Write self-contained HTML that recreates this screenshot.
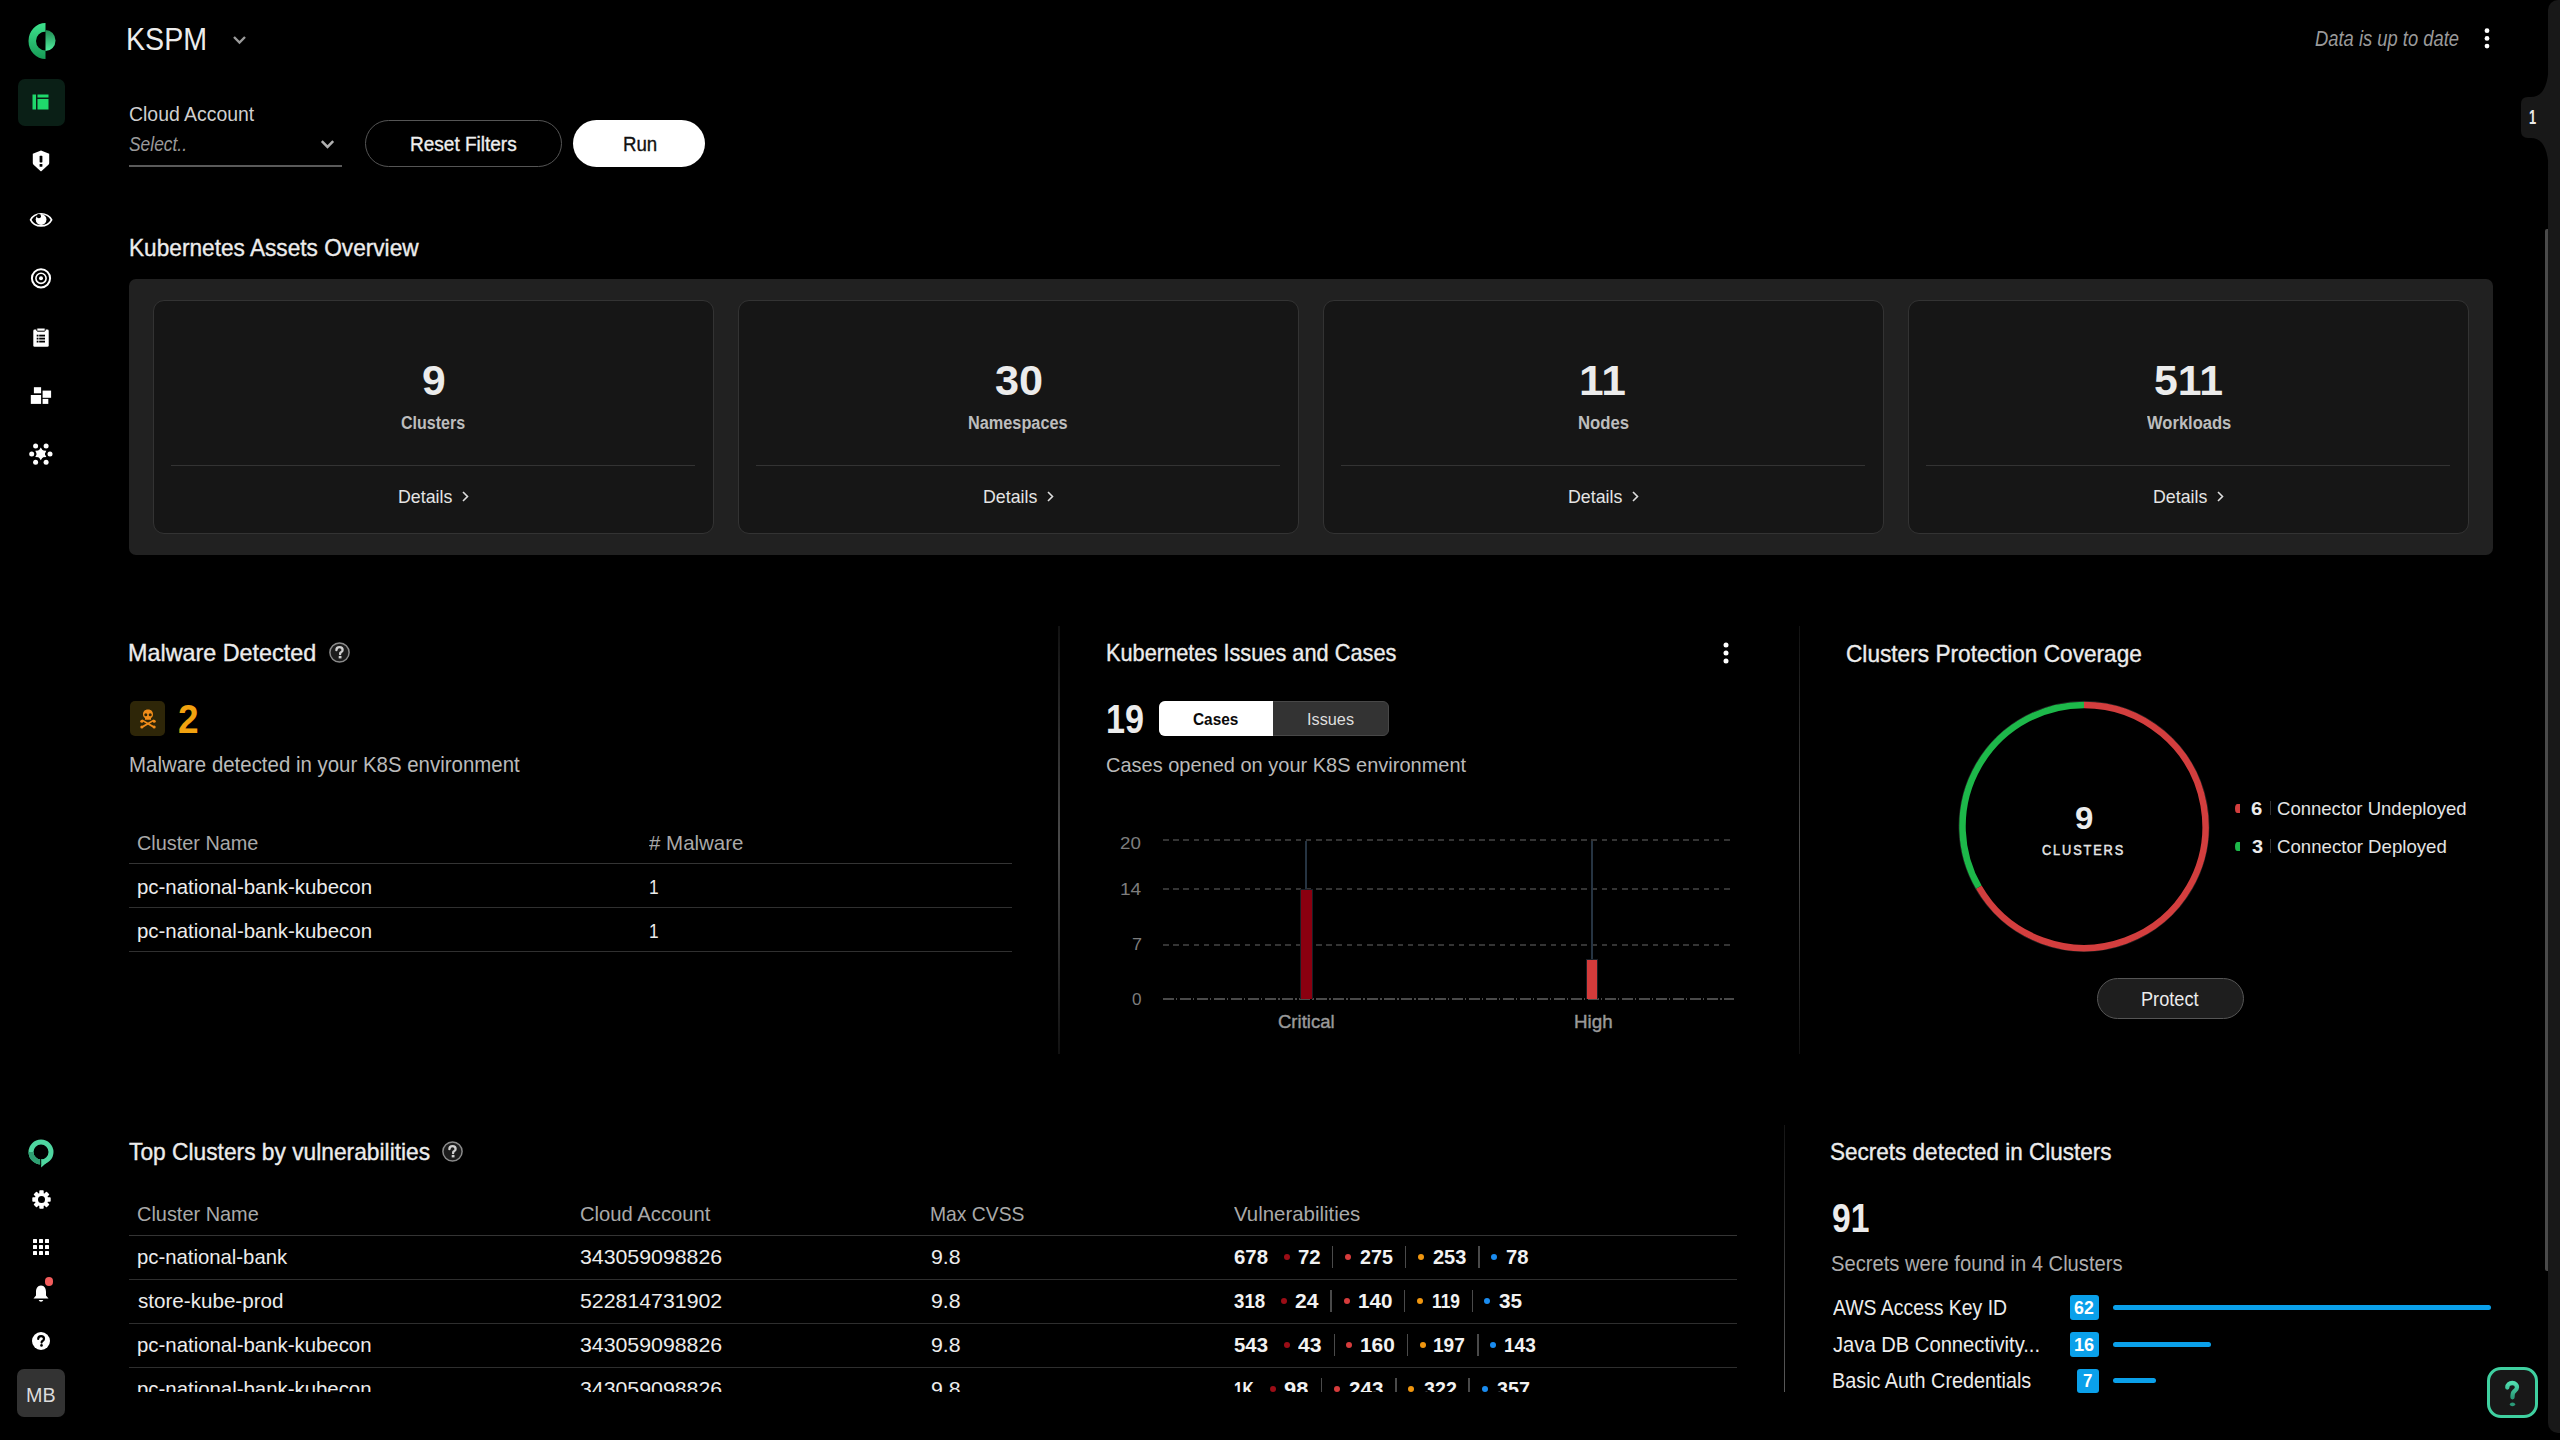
<!DOCTYPE html>
<html><head><meta charset="utf-8"><title>KSPM</title>
<style>
html,body{margin:0;padding:0;}
body{width:2560px;height:1440px;overflow:hidden;background:#000;position:relative;font-family:"Liberation Sans",sans-serif;}
.t{position:absolute;white-space:nowrap;line-height:1;transform-origin:0 0;}
.a{position:absolute;}
svg{position:absolute;overflow:visible;}
</style></head><body>
<div class="a" style="left:2548px;top:0;width:12px;height:1433px;background:#181818;border-radius:10px 0 0 10px"></div>
<svg style="left:0;top:0" width="2560" height="300" viewBox="0 0 2560 300"><path d="M2549 58 C2549 88 2542 97 2531 97 L2528 97 Q2521 97 2521 104 L2521 131 Q2521 138 2528 138 L2531 138 C2542 138 2549 147 2549 177 Z" fill="#181818"/></svg>
<div class="t" style="left:2529.20px;top:108.40px;font-size:19.30px;color:#e8e8e8;font-weight:700;transform:scaleX(0.6667);">1</div>
<div class="a" style="left:2545px;top:229px;width:3px;height:1042px;background:#4a4a4a;border-radius:2px 0 0 2px"></div>
<svg style="left:26px;top:23px" width="31" height="36" viewBox="0 0 31 36">
<defs><linearGradient id="lg1" x1="0" y1="0" x2="0" y2="1"><stop offset="0" stop-color="#3ee38e"/><stop offset="1" stop-color="#169a55"/></linearGradient>
<linearGradient id="lg2" x1="0" y1="0" x2="0" y2="1"><stop offset="0" stop-color="#1f8a52"/><stop offset="1" stop-color="#52f0a0"/></linearGradient></defs>
<path d="M19.5 0 L19.5 36 A17 18 0 0 1 19.5 0 Z M19.5 8.5 A9.5 9.5 0 0 0 19.5 27.5 Z" fill="url(#lg1)" fill-rule="evenodd"/>
<path d="M19.5 7 A10 10.5 0 0 1 19.5 28 Z" fill="url(#lg2)"/>
</svg>
<div class="a" style="left:17.5px;top:79px;width:47px;height:47px;background:#0a1f16;border-radius:7px"></div>
<svg style="left:32px;top:94px" width="17" height="16" viewBox="0 0 17 16">
<rect x="0.5" y="0.5" width="3.5" height="15" fill="#1fd86b"/><rect x="5.5" y="0.5" width="11" height="3" fill="#1fd86b"/><rect x="5.5" y="5" width="11" height="10.5" fill="#1fd86b"/></svg>
<svg style="left:32px;top:150px" width="18" height="22" viewBox="0 0 18 22">
<path d="M9 0.6 L17.2 3.8 L17.2 13 Q17.2 14 16.4 14.8 L9.6 21 Q9 21.4 8.4 21 L1.6 14.8 Q0.8 14 0.8 13 L0.8 3.8 Z" fill="#fff"/>
<rect x="7.6" y="5.8" width="2.8" height="6.6" rx="0.6" fill="#000"/><rect x="7.6" y="14" width="2.8" height="2.8" rx="0.6" fill="#000"/></svg>
<svg style="left:29px;top:209px" width="24" height="20" viewBox="0 0 24 20">
<path d="M1.6 10.85 C5.6 2.72 18.4 2.72 22.6 10.85 C18.4 18.98 5.6 18.98 1.6 10.85 Z" fill="none" stroke="#fff" stroke-width="1.7"/>
<circle cx="12.1" cy="10.5" r="5.4" fill="#fff"/><circle cx="9.9" cy="7.2" r="2.1" fill="#000"/></svg>
<svg style="left:30px;top:267px" width="22" height="22" viewBox="0 0 22 22">
<circle cx="11" cy="11.3" r="9.1" fill="none" stroke="#fff" stroke-width="2"/><circle cx="11" cy="11.3" r="5.1" fill="none" stroke="#fff" stroke-width="1.6"/><circle cx="11" cy="11.3" r="2" fill="#fff"/></svg>
<svg style="left:33px;top:327.5px" width="16" height="19" viewBox="0 0 16 19">
<rect x="0.3" y="1.6" width="15.4" height="17.1" rx="1.3" fill="#fff"/><rect x="3.8" y="0" width="8.4" height="3.2" rx="0.8" fill="#fff" stroke="#000" stroke-width="1"/>
<rect x="3.7" y="6.7" width="1.8" height="1.8" fill="#000"/><rect x="6.2" y="6.7" width="5.8" height="1.8" fill="#000"/>
<rect x="3.7" y="9.7" width="1.8" height="1.8" fill="#000"/><rect x="6.2" y="9.7" width="5.8" height="1.8" fill="#000"/>
<rect x="3.7" y="12.7" width="1.8" height="1.8" fill="#000"/><rect x="6.2" y="12.7" width="5.8" height="1.8" fill="#000"/></svg>
<svg style="left:30px;top:386px" width="22" height="19" viewBox="0 0 22 19"><g fill="#fff">
<rect x="3.9" y="1.2" width="7.2" height="6.1"/><rect x="0.8" y="9" width="10.3" height="8.9"/><rect x="12.6" y="4.6" width="8.5" height="7.2"/><rect x="12.6" y="12.9" width="5.7" height="5"/></g></svg>
<svg style="left:29px;top:442px" width="24" height="24" viewBox="0 0 24 24"><g fill="#fff">
<polygon points="11.80,5.50 9.85,8.52 6.26,8.70 7.90,11.90 6.26,15.10 9.85,15.28 11.80,18.30 13.75,15.28 17.34,15.10 15.70,11.90 17.34,8.70 13.75,8.52"/><circle cx="11.8" cy="11.9" r="4.2"/>
<circle cx="2.7" cy="11.9" r="2.5"/><circle cx="21" cy="11.9" r="2.5"/><circle cx="6.6" cy="4.1" r="2.5"/><circle cx="17.1" cy="4.1" r="2.5"/><circle cx="6.6" cy="20.2" r="2.5"/><circle cx="17.1" cy="20.2" r="2.5"/></g></svg>
<svg style="left:28px;top:1138.5px" width="26" height="29" viewBox="0 0 26 29">
<path d="M13 0.5 A12.5 12.5 0 1 1 13 25.5 A12.5 12.5 0 1 1 13 0.5 Z M13 5.5 A7.5 7.5 0 1 0 13 20.5 A7.5 7.5 0 1 0 13 5.5 Z" fill="#4fd6a0" fill-rule="evenodd"/>
<path d="M0.5 13 A12.5 12.5 0 0 0 13 25.5 L13 20.5 A7.5 7.5 0 0 1 5.5 13 Z" fill="#2f9f72"/>
<path d="M13 20 L13.2 28.6 L20 22.6 Z" fill="#4fd6a0"/>
<rect x="12.2" y="20" width="1" height="6" fill="#000"/></svg>
<svg style="left:31.5px;top:1190px" width="19" height="19" viewBox="-9.5 -9.5 19 19">
<g fill="#fff"><rect x="-2.2" y="-9.2" width="4.4" height="5" rx="0.8" transform="rotate(0)"/><rect x="-2.2" y="-9.2" width="4.4" height="5" rx="0.8" transform="rotate(45)"/><rect x="-2.2" y="-9.2" width="4.4" height="5" rx="0.8" transform="rotate(90)"/><rect x="-2.2" y="-9.2" width="4.4" height="5" rx="0.8" transform="rotate(135)"/><rect x="-2.2" y="-9.2" width="4.4" height="5" rx="0.8" transform="rotate(180)"/><rect x="-2.2" y="-9.2" width="4.4" height="5" rx="0.8" transform="rotate(225)"/><rect x="-2.2" y="-9.2" width="4.4" height="5" rx="0.8" transform="rotate(270)"/><rect x="-2.2" y="-9.2" width="4.4" height="5" rx="0.8" transform="rotate(315)"/>
<circle r="6.6"/></g><circle r="3.5" fill="#000"/></svg>
<svg style="left:33px;top:1238.5px" width="16" height="16" viewBox="0 0 16 16"><g fill="#fff"><rect x="0" y="0" width="4" height="4" rx="0.6"/><rect x="0" y="6" width="4" height="4" rx="0.6"/><rect x="0" y="12" width="4" height="4" rx="0.6"/><rect x="6" y="0" width="4" height="4" rx="0.6"/><rect x="6" y="6" width="4" height="4" rx="0.6"/><rect x="6" y="12" width="4" height="4" rx="0.6"/><rect x="12" y="0" width="4" height="4" rx="0.6"/><rect x="12" y="6" width="4" height="4" rx="0.6"/><rect x="12" y="12" width="4" height="4" rx="0.6"/></g></svg>
<svg style="left:33px;top:1284px" width="16" height="19" viewBox="0 0 16 19">
<path d="M8 1.5 C11.5 1.5 13 4.5 13 8 L13 11.5 L15.5 14.5 L0.5 14.5 L3 11.5 L3 8 C3 4.5 4.5 1.5 8 1.5 Z" fill="#fff"/><path d="M5.7 16 A2.4 2.4 0 0 0 10.3 16 Z" fill="#fff"/></svg>
<div class="a" style="left:44.5px;top:1277px;width:8.5px;height:8.5px;border-radius:50%;background:#f25c5c"></div>
<svg style="left:32px;top:1332px" width="18" height="18" viewBox="0 0 18 18">
<circle cx="9" cy="9" r="9" fill="#fff"/>
<path d="M6.2 7 C6.2 5.3 7.4 4.2 9.1 4.2 C10.8 4.2 12 5.3 12 6.8 C12 8.2 10.9 8.7 10.2 9.2 C9.7 9.6 9.6 9.9 9.6 10.6" fill="none" stroke="#000" stroke-width="2.2" stroke-linecap="round"/>
<circle cx="9.5" cy="13.4" r="1.3" fill="#000"/></svg>
<div class="a" style="left:17px;top:1369px;width:48px;height:48px;background:#333;border-radius:7px"></div>
<div class="t" style="left:25.96px;top:1384.52px;font-size:20.50px;color:#dcdcdc;transform:scaleX(0.9617);">MB</div>
<div class="t" style="left:125.76px;top:25.00px;font-size:30.70px;color:#ececec;transform:scaleX(0.9329);">KSPM</div>
<svg style="left:232px;top:35px" width="15" height="10" viewBox="0 0 15 10"><path d="M2 2 L7.5 7.5 L13 2" fill="none" stroke="#9a9a9a" stroke-width="2.4"/></svg>
<div class="t" style="left:2315.48px;top:29.03px;font-size:21.40px;color:#9a9a9a;font-style:italic;transform:scaleX(0.8592);">Data is up to date</div>
<svg style="left:2482.5px;top:28px" width="8" height="22" viewBox="0 0 8 22"><g fill="#fff"><circle cx="4" cy="2.7" r="2.4"/><circle cx="4" cy="10.4" r="2.4"/><circle cx="4" cy="18.1" r="2.4"/></g></svg>
<div class="t" style="left:128.73px;top:104.01px;font-size:20.00px;color:#cfcfcf;transform:scaleX(0.9712);">Cloud Account</div>
<div class="t" style="left:129.05px;top:134.62px;font-size:19.30px;color:#9a9a9a;font-style:italic;transform:scaleX(0.9024);">Select..</div>
<svg style="left:320px;top:139px" width="15" height="11" viewBox="0 0 15 11"><path d="M1.8 2.2 L7.5 8 L13.2 2.2" fill="none" stroke="#b0b0b0" stroke-width="2.5"/></svg>
<div class="a" style="left:129px;top:165px;width:213px;height:2px;background:#5a5a5a"></div>
<div class="a" style="left:365px;top:120px;width:195px;height:45px;border:1.5px solid #555;border-radius:24px"></div>
<div class="t" style="left:409.92px;top:133.82px;font-size:20.50px;color:#eeeeee;transform:scaleX(0.9273);-webkit-text-stroke:0.35px currentColor;">Reset Filters</div>
<div class="a" style="left:573px;top:120px;width:132px;height:47px;background:#fff;border-radius:24px"></div>
<div class="t" style="left:622.54px;top:133.82px;font-size:20.50px;color:#111;transform:scaleX(0.9105);-webkit-text-stroke:0.35px currentColor;">Run</div>
<div class="t" style="left:128.94px;top:236.62px;font-size:23.20px;color:#ececec;transform:scaleX(0.9770);-webkit-text-stroke:0.35px currentColor;">Kubernetes Assets Overview</div>
<div class="a" style="left:129px;top:279px;width:2364px;height:276px;background:#212121;border-radius:7px"></div>
<div class="a" style="left:153px;top:300px;width:559px;height:232px;background:#161616;border:1px solid #333;border-radius:11px"></div>
<div class="a" style="left:171px;top:464.5px;width:524px;height:1.5px;background:#333"></div>
<div class="t" style="left:421.52px;top:359.50px;font-size:42.10px;color:#ececec;font-weight:700;transform:scaleX(1.0119);">9</div>
<div class="t" style="left:401.39px;top:413.60px;font-size:18.30px;color:#bdbdbd;font-weight:700;transform:scaleX(0.8768);">Clusters</div>
<div class="t" style="left:398.42px;top:488.01px;font-size:18.60px;color:#e4e4e4;transform:scaleX(0.9552);">Details</div>
<svg style="left:462.0px;top:491px" width="7" height="11" viewBox="0 0 7 11"><path d="M1 1 L5.5 5.5 L1 10" fill="none" stroke="#ddd" stroke-width="1.6"/></svg>
<div class="a" style="left:738px;top:300px;width:559px;height:232px;background:#161616;border:1px solid #333;border-radius:11px"></div>
<div class="a" style="left:756px;top:464.5px;width:524px;height:1.5px;background:#333"></div>
<div class="t" style="left:994.97px;top:359.50px;font-size:42.10px;color:#ececec;font-weight:700;transform:scaleX(1.0278);">30</div>
<div class="t" style="left:968.43px;top:413.60px;font-size:18.30px;color:#bdbdbd;font-weight:700;transform:scaleX(0.8907);">Namespaces</div>
<div class="t" style="left:983.42px;top:488.01px;font-size:18.60px;color:#e4e4e4;transform:scaleX(0.9552);">Details</div>
<svg style="left:1047.0px;top:491px" width="7" height="11" viewBox="0 0 7 11"><path d="M1 1 L5.5 5.5 L1 10" fill="none" stroke="#ddd" stroke-width="1.6"/></svg>
<div class="a" style="left:1323px;top:300px;width:559px;height:232px;background:#161616;border:1px solid #333;border-radius:11px"></div>
<div class="a" style="left:1341px;top:464.5px;width:524px;height:1.5px;background:#333"></div>
<div class="t" style="left:1579.23px;top:359.50px;font-size:42.10px;color:#ececec;font-weight:700;transform:scaleX(1.0533);">11</div>
<div class="t" style="left:1577.65px;top:413.60px;font-size:18.30px;color:#bdbdbd;font-weight:700;transform:scaleX(0.9158);">Nodes</div>
<div class="t" style="left:1568.42px;top:488.01px;font-size:18.60px;color:#e4e4e4;transform:scaleX(0.9552);">Details</div>
<svg style="left:1632.0px;top:491px" width="7" height="11" viewBox="0 0 7 11"><path d="M1 1 L5.5 5.5 L1 10" fill="none" stroke="#ddd" stroke-width="1.6"/></svg>
<div class="a" style="left:1908px;top:300px;width:559px;height:232px;background:#161616;border:1px solid #333;border-radius:11px"></div>
<div class="a" style="left:1926px;top:464.5px;width:524px;height:1.5px;background:#333"></div>
<div class="t" style="left:2154.18px;top:359.50px;font-size:42.10px;color:#ececec;font-weight:700;transform:scaleX(1.0164);">511</div>
<div class="t" style="left:2146.60px;top:413.60px;font-size:18.30px;color:#bdbdbd;font-weight:700;transform:scaleX(0.9056);">Workloads</div>
<div class="t" style="left:2153.42px;top:488.01px;font-size:18.60px;color:#e4e4e4;transform:scaleX(0.9552);">Details</div>
<svg style="left:2217.0px;top:491px" width="7" height="11" viewBox="0 0 7 11"><path d="M1 1 L5.5 5.5 L1 10" fill="none" stroke="#ddd" stroke-width="1.6"/></svg>
<div class="a" style="left:1058px;top:626px;width:1.5px;height:428px;background:linear-gradient(#111,#4a4a4a 50%,#111)"></div>
<div class="a" style="left:1798.5px;top:626px;width:1.5px;height:428px;background:linear-gradient(#111,#4a4a4a 50%,#111)"></div>
<div class="a" style="left:1783.5px;top:1125px;width:1.5px;height:267px;background:linear-gradient(#151515,#5a5a5a)"></div>
<div class="t" style="left:128.49px;top:642.22px;font-size:23.20px;color:#ececec;transform:scaleX(1.0073);-webkit-text-stroke:0.35px currentColor;">Malware Detected</div>
<svg style="left:328.5px;top:642px" width="21" height="21" viewBox="0 0 21 21"><circle cx="10.5" cy="10.5" r="9.6" fill="#1c1c1c" stroke="#8a8a8a" stroke-width="1.5"/><path d="M7.4 8.2 C7.4 6.3 8.7 5.2 10.5 5.2 C12.3 5.2 13.6 6.3 13.6 7.9 C13.6 9.4 12.4 9.9 11.7 10.5 C11.2 10.9 11.1 11.3 11.1 12.2" fill="none" stroke="#cfcfcf" stroke-width="2.3" stroke-linecap="round"/><rect x="9.7" y="14" width="2.8" height="2.4" fill="#cfcfcf"/></svg>
<div class="a" style="left:130px;top:701px;width:35px;height:35px;background:#2e2608;border-radius:5px"></div>
<svg style="left:140px;top:709px" width="16" height="20" viewBox="0 0 16 20"><g fill="#f08c1a">
<path d="M8 0.5 C11.5 0.5 13 2.8 13 5.5 C13 7.5 12 8.5 11 9 L11 10.8 L5 10.8 L5 9 C4 8.5 3 7.5 3 5.5 C3 2.8 4.5 0.5 8 0.5 Z"/>
<path d="M1.2 11.5 L2.5 10.6 L14.8 17.6 L13.5 19 Z"/><path d="M14.8 11.5 L13.5 10.6 L1.2 17.6 L2.5 19 Z"/>
<circle cx="1.8" cy="12.3" r="1.5"/><circle cx="14.2" cy="12.3" r="1.5"/><circle cx="1.8" cy="17.9" r="1.5"/><circle cx="14.2" cy="17.9" r="1.5"/></g>
<circle cx="5.8" cy="5.8" r="1.5" fill="#2e2608"/><circle cx="10.2" cy="5.8" r="1.5" fill="#2e2608"/></svg>
<div class="t" style="left:178.24px;top:699.40px;font-size:40.70px;color:#f2a20f;font-weight:700;transform:scaleX(0.9091);">2</div>
<div class="t" style="left:128.88px;top:754.73px;font-size:21.50px;color:#bababa;transform:scaleX(0.9503);">Malware detected in your K8S environment</div>
<div class="t" style="left:137.45px;top:831.50px;font-size:21.00px;color:#a9a9a9;transform:scaleX(0.9455);">Cluster Name</div>
<div class="t" style="left:648.80px;top:831.50px;font-size:21.00px;color:#a9a9a9;transform:scaleX(0.9751);"># Malware</div>
<div class="a" style="left:129px;top:862.8px;width:883px;height:1.5px;background:#343434"></div>
<div class="t" style="left:137.14px;top:875.60px;font-size:21.00px;color:#ececec;transform:scaleX(0.9725);">pc-national-bank-kubecon</div>
<div class="t" style="left:648.68px;top:875.60px;font-size:21.00px;color:#ececec;transform:scaleX(0.8242);">1</div>
<div class="a" style="left:129px;top:906.8px;width:883px;height:1.5px;background:#303030"></div>
<div class="t" style="left:137.14px;top:919.60px;font-size:21.00px;color:#ececec;transform:scaleX(0.9725);">pc-national-bank-kubecon</div>
<div class="t" style="left:648.68px;top:919.60px;font-size:21.00px;color:#ececec;transform:scaleX(0.8242);">1</div>
<div class="a" style="left:129px;top:950.8px;width:883px;height:1.5px;background:#303030"></div>
<div class="t" style="left:1106.22px;top:642.27px;font-size:23.20px;color:#ececec;transform:scaleX(0.9387);-webkit-text-stroke:0.35px currentColor;">Kubernetes Issues and Cases</div>
<svg style="left:1722px;top:642px" width="8" height="22" viewBox="0 0 8 22"><g fill="#fff"><circle cx="4" cy="3" r="2.5"/><circle cx="4" cy="11" r="2.5"/><circle cx="4" cy="19" r="2.5"/></g></svg>
<div class="t" style="left:1106.37px;top:699.40px;font-size:40.70px;color:#ececec;font-weight:700;transform:scaleX(0.8391);">19</div>
<div class="a" style="left:1159px;top:701px;width:228px;height:33px;background:#333;border:1px solid #484848;border-radius:6px"></div>
<div class="a" style="left:1159px;top:701px;width:114px;height:35px;background:#fff;border-radius:6px 0 0 6px"></div>
<div class="t" style="left:1193.13px;top:710.50px;font-size:17.40px;color:#0a0a0a;font-weight:700;transform:scaleX(0.8858);">Cases</div>
<div class="t" style="left:1306.50px;top:710.52px;font-size:17.40px;color:#dedede;transform:scaleX(0.9358);">Issues</div>
<div class="t" style="left:1106.05px;top:753.90px;font-size:21.00px;color:#bababa;transform:scaleX(0.9520);">Cases opened on your K8S environment</div>
<div class="t" style="left:1120.49px;top:834.69px;font-size:16.50px;color:#7d7d7d;transform:scaleX(1.1369);">20</div>
<div class="a" style="left:1163px;top:839.3px;width:571px;height:2px;background:repeating-linear-gradient(90deg,#343434 0 5.6px,transparent 5.6px 10.2px)"></div>
<div class="t" style="left:1120.01px;top:881.19px;font-size:16.50px;color:#7d7d7d;transform:scaleX(1.1573);">14</div>
<div class="a" style="left:1163px;top:888.0px;width:571px;height:2px;background:repeating-linear-gradient(90deg,#343434 0 5.6px,transparent 5.6px 10.2px)"></div>
<div class="t" style="left:1131.53px;top:935.69px;font-size:16.50px;color:#7d7d7d;transform:scaleX(1.0921);">7</div>
<div class="a" style="left:1163px;top:943.5px;width:571px;height:2px;background:repeating-linear-gradient(90deg,#343434 0 5.6px,transparent 5.6px 10.2px)"></div>
<div class="t" style="left:1131.78px;top:991.19px;font-size:16.50px;color:#7d7d7d;transform:scaleX(1.0375);">0</div>
<div class="a" style="left:1163px;top:997.7px;width:571px;height:2px;background:repeating-linear-gradient(90deg,#4a4a4a 0 11px,transparent 11px 13px,#4a4a4a 13px 14.5px,transparent 14.5px 17px)"></div>
<div class="a" style="left:1305.3px;top:840.5px;width:1.5px;height:49px;background:#263442"></div>
<div class="a" style="left:1300px;top:888.5px;width:12.5px;height:110.5px;background:#1a1f26"></div>
<div class="a" style="left:1301px;top:889.5px;width:10.5px;height:109.5px;background:#8a0010"></div>
<div class="a" style="left:1591.3px;top:840.5px;width:1.5px;height:119px;background:#263442"></div>
<div class="a" style="left:1586.3px;top:959px;width:12px;height:40px;background:#1a1f26"></div>
<div class="a" style="left:1587.3px;top:960px;width:10px;height:39px;background:#d33b3b"></div>
<div class="t" style="left:1278.12px;top:1012.00px;font-size:19.00px;color:#9a9a9a;transform:scaleX(0.9743);-webkit-text-stroke:0.4px currentColor;">Critical</div>
<div class="t" style="left:1574.02px;top:1012.00px;font-size:19.00px;color:#9a9a9a;transform:scaleX(0.9888);-webkit-text-stroke:0.4px currentColor;">High</div>
<div class="t" style="left:1846.43px;top:642.52px;font-size:23.20px;color:#ececec;transform:scaleX(0.9770);-webkit-text-stroke:0.35px currentColor;">Clusters Protection Coverage</div>
<svg style="left:0;top:0" width="2560" height="1440" viewBox="0 0 2560 1440">
<circle cx="2084" cy="826.4" r="125.1" fill="none" stroke="#222" stroke-width="1"/>
<path d="M2084.00 704.90 A121.5 121.5 0 1 1 1978.78 887.15" fill="none" stroke="#d33e3e" stroke-width="6.5"/>
<path d="M1978.78 887.15 A121.5 121.5 0 0 1 2084.00 704.90" fill="none" stroke="#1db84a" stroke-width="6.5"/>
</svg>
<div class="t" style="left:2074.72px;top:803.70px;font-size:30.70px;color:#ececec;font-weight:700;transform:scaleX(1.0749);">9</div>
<div class="t" style="left:2042.35px;top:843.75px;font-size:13.80px;color:#e6e6e6;letter-spacing:2px;transform:scaleX(0.9269);-webkit-text-stroke:0.45px currentColor;">CLUSTERS</div>
<div class="a" style="left:2235px;top:803.5px;width:5px;height:9px;background:#d33e3e;border-radius:50% 0 0 50%"></div>
<div class="t" style="left:2251.33px;top:799.60px;font-size:18.30px;color:#ececec;font-weight:700;transform:scaleX(1.1111);">6</div>
<div class="a" style="left:2269.5px;top:801px;width:1.5px;height:14px;background:#333"></div>
<div class="t" style="left:2277.16px;top:800.62px;font-size:17.70px;color:#e4e4e4;transform:scaleX(1.0479);">Connector Undeployed</div>
<div class="a" style="left:2235px;top:841.5px;width:5px;height:9px;background:#1db84a;border-radius:50% 0 0 50%"></div>
<div class="t" style="left:2251.57px;top:837.60px;font-size:18.30px;color:#ececec;font-weight:700;transform:scaleX(1.0870);">3</div>
<div class="a" style="left:2269.5px;top:839px;width:1.5px;height:14px;background:#333"></div>
<div class="t" style="left:2277.16px;top:838.62px;font-size:17.70px;color:#e4e4e4;transform:scaleX(1.0531);">Connector Deployed</div>
<div class="a" style="left:2096.5px;top:978px;width:145px;height:38.5px;background:#1e1e1e;border:1.5px solid #555;border-radius:21px"></div>
<div class="t" style="left:2140.58px;top:988.62px;font-size:20.50px;color:#ececec;transform:scaleX(0.8854);">Protect</div>
<div class="t" style="left:129.01px;top:1141.02px;font-size:23.20px;color:#ececec;transform:scaleX(0.9817);-webkit-text-stroke:0.35px currentColor;">Top Clusters by vulnerabilities</div>
<svg style="left:442px;top:1141px" width="21" height="21" viewBox="0 0 21 21"><circle cx="10.5" cy="10.5" r="9.6" fill="#1c1c1c" stroke="#8a8a8a" stroke-width="1.5"/><path d="M7.4 8.2 C7.4 6.3 8.7 5.2 10.5 5.2 C12.3 5.2 13.6 6.3 13.6 7.9 C13.6 9.4 12.4 9.9 11.7 10.5 C11.2 10.9 11.1 11.3 11.1 12.2" fill="none" stroke="#cfcfcf" stroke-width="2.3" stroke-linecap="round"/><rect x="9.7" y="14" width="2.8" height="2.4" fill="#cfcfcf"/></svg>
<div class="t" style="left:137.05px;top:1203.00px;font-size:21.00px;color:#a9a9a9;transform:scaleX(0.9487);">Cluster Name</div>
<div class="t" style="left:580.04px;top:1203.00px;font-size:21.00px;color:#a9a9a9;transform:scaleX(0.9635);">Cloud Account</div>
<div class="t" style="left:930.44px;top:1203.00px;font-size:21.00px;color:#a9a9a9;transform:scaleX(0.9192);">Max CVSS</div>
<div class="t" style="left:1234.00px;top:1203.00px;font-size:21.00px;color:#a9a9a9;transform:scaleX(0.9717);">Vulnerabilities</div>
<div class="a" style="left:129px;top:1234.7px;width:1608px;height:1.5px;background:#343434"></div>
<div class="a" style="left:0;top:0;width:2560px;height:1392px;overflow:hidden">
<div class="t" style="left:136.74px;top:1246.40px;font-size:21.00px;color:#ececec;transform:scaleX(0.9671);">pc-national-bank</div>
<div class="t" style="left:580.19px;top:1246.40px;font-size:21.00px;color:#ececec;transform:scaleX(1.0139);">343059098826</div>
<div class="t" style="left:931.09px;top:1246.40px;font-size:21.00px;color:#ececec;transform:scaleX(1.0141);">9.8</div>
<div class="t" style="left:1234.01px;top:1247.40px;font-size:20.70px;color:#f2f2f2;font-weight:700;transform:scaleX(0.9842);">678</div>
<div class="a" style="left:1283.8px;top:1254.1px;width:6px;height:6px;border-radius:50%;background:#9b0d16"></div>
<div class="t" style="left:1297.61px;top:1247.40px;font-size:20.70px;color:#f2f2f2;font-weight:700;transform:scaleX(0.9854);">72</div>
<div class="a" style="left:1331.8px;top:1246.1px;width:1.5px;height:22px;background:#4a4a4a"></div>
<div class="a" style="left:1345.3px;top:1254.1px;width:6px;height:6px;border-radius:50%;background:#d63c3c"></div>
<div class="t" style="left:1359.93px;top:1247.40px;font-size:20.70px;color:#f2f2f2;font-weight:700;transform:scaleX(0.9512);">275</div>
<div class="a" style="left:1404.8px;top:1246.1px;width:1.5px;height:22px;background:#4a4a4a"></div>
<div class="a" style="left:1418.0px;top:1254.1px;width:6px;height:6px;border-radius:50%;background:#f0960f"></div>
<div class="t" style="left:1432.72px;top:1247.40px;font-size:20.70px;color:#f2f2f2;font-weight:700;transform:scaleX(0.9660);">253</div>
<div class="a" style="left:1478.2px;top:1246.1px;width:1.5px;height:22px;background:#4a4a4a"></div>
<div class="a" style="left:1491.2px;top:1254.1px;width:6px;height:6px;border-radius:50%;background:#1a8cf0"></div>
<div class="t" style="left:1505.72px;top:1247.40px;font-size:20.70px;color:#f2f2f2;font-weight:700;transform:scaleX(0.9763);">78</div>
<div class="a" style="left:129px;top:1278.5px;width:1608px;height:1.5px;background:#2e2e2e"></div>
<div class="t" style="left:137.51px;top:1290.40px;font-size:21.00px;color:#ececec;transform:scaleX(0.9811);">store-kube-prod</div>
<div class="t" style="left:580.19px;top:1290.40px;font-size:21.00px;color:#ececec;transform:scaleX(1.0147);">522814731902</div>
<div class="t" style="left:931.09px;top:1290.40px;font-size:21.00px;color:#ececec;transform:scaleX(1.0141);">9.8</div>
<div class="t" style="left:1234.34px;top:1291.40px;font-size:20.70px;color:#f2f2f2;font-weight:700;transform:scaleX(0.9038);">318</div>
<div class="a" style="left:1281.0px;top:1298.1px;width:6px;height:6px;border-radius:50%;background:#9b0d16"></div>
<div class="t" style="left:1294.88px;top:1291.40px;font-size:20.70px;color:#f2f2f2;font-weight:700;transform:scaleX(1.0219);">24</div>
<div class="a" style="left:1330.2px;top:1290.1px;width:1.5px;height:22px;background:#4a4a4a"></div>
<div class="a" style="left:1343.5px;top:1298.1px;width:6px;height:6px;border-radius:50%;background:#d63c3c"></div>
<div class="t" style="left:1357.60px;top:1291.40px;font-size:20.70px;color:#f2f2f2;font-weight:700;transform:scaleX(0.9962);">140</div>
<div class="a" style="left:1403.8px;top:1290.1px;width:1.5px;height:22px;background:#4a4a4a"></div>
<div class="a" style="left:1417.4px;top:1298.1px;width:6px;height:6px;border-radius:50%;background:#f0960f"></div>
<div class="t" style="left:1431.61px;top:1291.40px;font-size:20.70px;color:#f2f2f2;font-weight:700;transform:scaleX(0.8380);">119</div>
<div class="a" style="left:1471.7px;top:1290.1px;width:1.5px;height:22px;background:#4a4a4a"></div>
<div class="a" style="left:1484.2px;top:1298.1px;width:6px;height:6px;border-radius:50%;background:#1a8cf0"></div>
<div class="t" style="left:1499.10px;top:1291.40px;font-size:20.70px;color:#f2f2f2;font-weight:700;transform:scaleX(1.0040);">35</div>
<div class="a" style="left:129px;top:1322.5px;width:1608px;height:1.5px;background:#2e2e2e"></div>
<div class="t" style="left:136.74px;top:1334.40px;font-size:21.00px;color:#ececec;transform:scaleX(0.9704);">pc-national-bank-kubecon</div>
<div class="t" style="left:580.19px;top:1334.40px;font-size:21.00px;color:#ececec;transform:scaleX(1.0139);">343059098826</div>
<div class="t" style="left:931.09px;top:1334.40px;font-size:21.00px;color:#ececec;transform:scaleX(1.0141);">9.8</div>
<div class="t" style="left:1234.11px;top:1335.40px;font-size:20.70px;color:#f2f2f2;font-weight:700;transform:scaleX(0.9842);">543</div>
<div class="a" style="left:1283.8px;top:1342.1px;width:6px;height:6px;border-radius:50%;background:#9b0d16"></div>
<div class="t" style="left:1298.09px;top:1335.40px;font-size:20.70px;color:#f2f2f2;font-weight:700;transform:scaleX(1.0222);">43</div>
<div class="a" style="left:1333.5px;top:1334.1px;width:1.5px;height:22px;background:#4a4a4a"></div>
<div class="a" style="left:1346.4px;top:1342.1px;width:6px;height:6px;border-radius:50%;background:#d63c3c"></div>
<div class="t" style="left:1359.99px;top:1335.40px;font-size:20.70px;color:#f2f2f2;font-weight:700;transform:scaleX(1.0085);">160</div>
<div class="a" style="left:1406.7px;top:1334.1px;width:1.5px;height:22px;background:#4a4a4a"></div>
<div class="a" style="left:1419.8px;top:1342.1px;width:6px;height:6px;border-radius:50%;background:#f0960f"></div>
<div class="t" style="left:1433.30px;top:1335.40px;font-size:20.70px;color:#f2f2f2;font-weight:700;transform:scaleX(0.9221);">197</div>
<div class="a" style="left:1477.0px;top:1334.1px;width:1.5px;height:22px;background:#4a4a4a"></div>
<div class="a" style="left:1489.5px;top:1342.1px;width:6px;height:6px;border-radius:50%;background:#1a8cf0"></div>
<div class="t" style="left:1503.60px;top:1335.40px;font-size:20.70px;color:#f2f2f2;font-weight:700;transform:scaleX(0.9193);">143</div>
<div class="a" style="left:129px;top:1366.5px;width:1608px;height:1.5px;background:#2e2e2e"></div>
<div class="t" style="left:136.74px;top:1378.40px;font-size:21.00px;color:#ececec;transform:scaleX(0.9704);">pc-national-bank-kubecon</div>
<div class="t" style="left:580.19px;top:1378.40px;font-size:21.00px;color:#ececec;transform:scaleX(1.0139);">343059098826</div>
<div class="t" style="left:931.09px;top:1378.40px;font-size:21.00px;color:#ececec;transform:scaleX(1.0141);">9.8</div>
<div class="t" style="left:1233.73px;top:1379.40px;font-size:20.70px;color:#f2f2f2;font-weight:700;transform:scaleX(0.7476);">1K</div>
<div class="a" style="left:1269.7px;top:1386.1px;width:6px;height:6px;border-radius:50%;background:#9b0d16"></div>
<div class="t" style="left:1284.26px;top:1379.40px;font-size:20.70px;color:#f2f2f2;font-weight:700;transform:scaleX(1.0547);">98</div>
<div class="a" style="left:1320.5px;top:1378.1px;width:1.5px;height:22px;background:#4a4a4a"></div>
<div class="a" style="left:1334.0px;top:1386.1px;width:6px;height:6px;border-radius:50%;background:#d63c3c"></div>
<div class="t" style="left:1348.70px;top:1379.40px;font-size:20.70px;color:#f2f2f2;font-weight:700;transform:scaleX(0.9962);">243</div>
<div class="a" style="left:1395.0px;top:1378.1px;width:1.5px;height:22px;background:#4a4a4a"></div>
<div class="a" style="left:1407.9px;top:1386.1px;width:6px;height:6px;border-radius:50%;background:#f0960f"></div>
<div class="t" style="left:1423.52px;top:1379.40px;font-size:20.70px;color:#f2f2f2;font-weight:700;transform:scaleX(0.9512);">322</div>
<div class="a" style="left:1468.2px;top:1378.1px;width:1.5px;height:22px;background:#4a4a4a"></div>
<div class="a" style="left:1481.7px;top:1386.1px;width:6px;height:6px;border-radius:50%;background:#1a8cf0"></div>
<div class="t" style="left:1497.32px;top:1379.40px;font-size:20.70px;color:#f2f2f2;font-weight:700;transform:scaleX(0.9512);">357</div>
</div>
<div class="t" style="left:1830.43px;top:1140.52px;font-size:23.20px;color:#ececec;transform:scaleX(0.9711);-webkit-text-stroke:0.35px currentColor;">Secrets detected in Clusters</div>
<div class="t" style="left:1831.55px;top:1198.00px;font-size:40.70px;color:#ececec;font-weight:700;transform:scaleX(0.8259);">91</div>
<div class="t" style="left:1830.56px;top:1253.83px;font-size:21.50px;color:#adadad;transform:scaleX(0.9384);">Secrets were found in 4 Clusters</div>
<div class="t" style="left:1832.80px;top:1297.83px;font-size:21.50px;color:#ececec;transform:scaleX(0.9030);">AWS Access Key ID</div>
<div class="a" style="left:2070px;top:1295.0px;width:28.6px;height:24.5px;background:#0aa0ea;border-radius:3px"></div>
<div class="t" style="left:2074.48px;top:1298.70px;font-size:18.60px;color:#ffffff;font-weight:700;transform:scaleX(0.9563);">62</div>
<div class="a" style="left:2113px;top:1304.5px;width:378.0px;height:5.4px;background:#0aa0ea;border-radius:3px"></div>
<div class="t" style="left:1832.52px;top:1334.83px;font-size:21.50px;color:#ececec;transform:scaleX(0.9383);">Java DB Connectivity...</div>
<div class="a" style="left:2070px;top:1332.0px;width:28.6px;height:24.5px;background:#0aa0ea;border-radius:3px"></div>
<div class="t" style="left:2073.98px;top:1335.70px;font-size:18.60px;color:#ffffff;font-weight:700;transform:scaleX(0.9765);">16</div>
<div class="a" style="left:2113px;top:1341.5px;width:97.5px;height:5.4px;background:#0aa0ea;border-radius:3px"></div>
<div class="t" style="left:1832.13px;top:1371.33px;font-size:21.50px;color:#ececec;transform:scaleX(0.9212);">Basic Auth Credentials</div>
<div class="a" style="left:2077px;top:1368.5px;width:21.6px;height:24.5px;background:#0aa0ea;border-radius:3px"></div>
<div class="t" style="left:2083.07px;top:1372.20px;font-size:18.60px;color:#ffffff;font-weight:700;transform:scaleX(0.9091);">7</div>
<div class="a" style="left:2113px;top:1378.0px;width:42.6px;height:5.4px;background:#0aa0ea;border-radius:3px"></div>
<div class="a" style="left:2487px;top:1367px;width:45px;height:45px;background:#181818;border:3px solid #3fd0a0;border-radius:14px"></div>
<svg style="left:2500px;top:1375px" width="25" height="35" viewBox="0 0 25 35">
<defs><linearGradient id="hg" x1="0" y1="0" x2="0" y2="1"><stop offset="0" stop-color="#4fdcae"/><stop offset="1" stop-color="#2a9a78"/></linearGradient></defs>
<path d="M7.3 12.5 C7.3 9.5 9.5 8 12.3 8 C15.2 8 17 9.8 17 12.3 C17 14.8 15 15.8 13.8 16.8 C12.8 17.6 12.5 18.5 12.5 22.3" fill="none" stroke="url(#hg)" stroke-width="4.3" stroke-linecap="round"/>
<ellipse cx="12.5" cy="29.3" rx="2.6" ry="1.9" fill="#2a9a78"/></svg>
</body></html>
